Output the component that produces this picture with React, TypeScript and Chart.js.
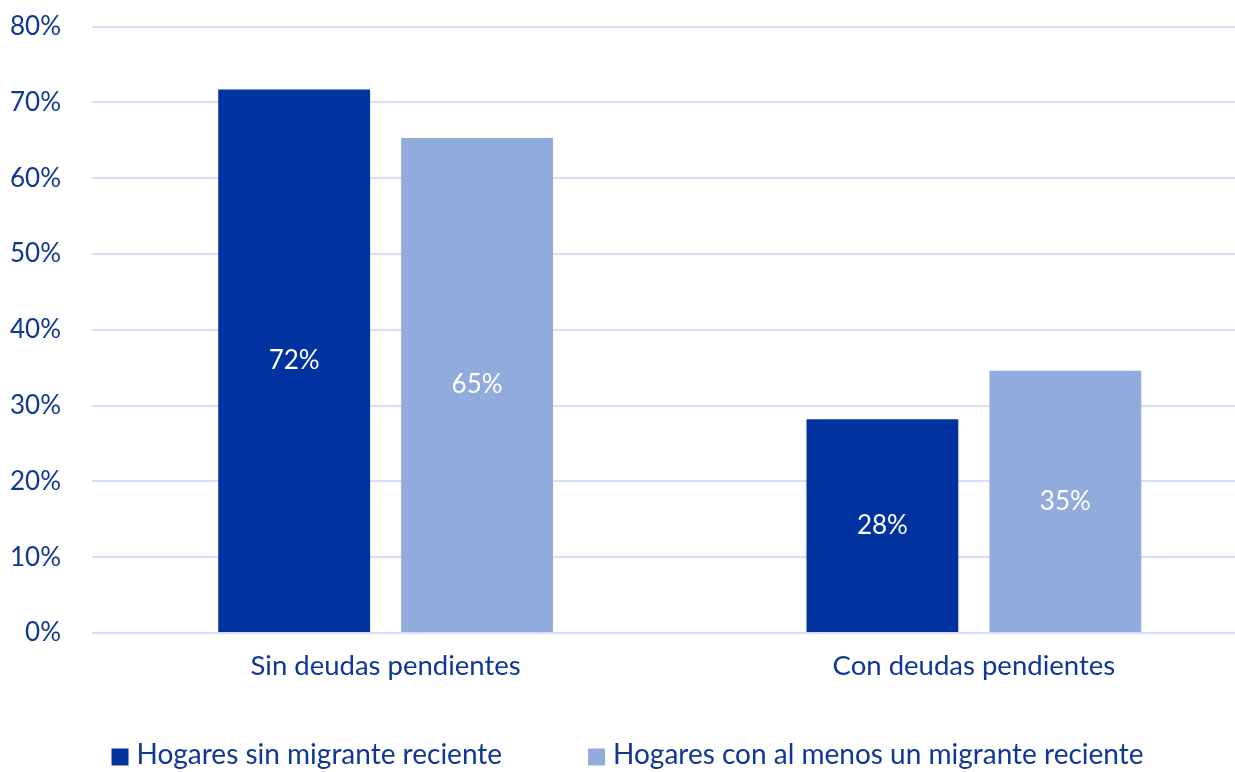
import React, { useEffect, useRef } from "react";
import { Chart, registerables } from "chart.js";

Chart.register(...registerables);

const categories = ["Sin deudas pendientes", "Con deudas pendientes"];
const seriesNames = ["Hogares sin migrante reciente", "Hogares con al menos un migrante reciente"];
const sinMigrante = [71.7, 28.2];
const conMigrante = [65.3, 34.6];
const valueLabelsSin = ["72%", "28%"];
const valueLabelsCon = ["65%", "35%"];
const yTicks = [0, 10, 20, 30, 40, 50, 60, 70, 80];

const DARK = "#0033a0";
const LIGHT = "#91abdc";
const TEXT = "#0f3794";
const GRID = "#d3dff7";
const FONT = "Lato, 'Open Sans', sans-serif";

const valueLabelPlugin = {
  id: "valueLabels",
  afterDatasetsDraw(chart: any) {
    const ctx = chart.ctx;
    ctx.save();
    ctx.font = `26px ${FONT}`;
    ctx.fillStyle = "#ffffff";
    ctx.textAlign = "center";
    ctx.textBaseline = "middle";
    chart.data.datasets.forEach((ds: any, di: number) => {
      const meta = chart.getDatasetMeta(di);
      meta.data.forEach((bar: any, i: number) => {
        const y = (bar.y + bar.base) / 2;
        ctx.fillText(ds.valueLabels[i], bar.x, y);
      });
    });
    ctx.restore();
  },
};

const legendPlugin = {
  id: "customLegend",
  afterDraw(chart: any) {
    const ctx = chart.ctx;
    ctx.save();
    ctx.font = `28px ${FONT}`;
    ctx.textBaseline = "middle";
    ctx.textAlign = "left";
    const box = 17;
    const gap = 8;
    const between = 86;
    const items = chart.data.datasets.map((ds: any) => ({
      text: ds.label,
      color: ds.backgroundColor,
      w: ctx.measureText(ds.label).width,
    }));
    let total = 0;
    items.forEach((it: any, i: number) => {
      total += box + gap + it.w + (i > 0 ? between : 0);
    });
    let x = 627.5 - total / 2;
    const cy = 755;
    items.forEach((it: any) => {
      ctx.fillStyle = it.color;
      ctx.fillRect(x, cy - box / 2 + 2, box, box);
      ctx.fillStyle = TEXT;
      ctx.fillText(it.text, x + box + gap, cy);
      x += box + gap + it.w + between;
    });
    ctx.restore();
  },
};

export default function App() {
  const ref = useRef<HTMLCanvasElement>(null);
  useEffect(() => {
    if (!ref.current) return;
    const chart = new Chart(ref.current, {
      type: "bar",
      data: {
        labels: categories,
        datasets: [
          {
            label: seriesNames[0],
            data: sinMigrante,
            backgroundColor: DARK,
            valueLabels: valueLabelsSin,
            categoryPercentage: 0.622,
            barPercentage: 0.83,
          } as any,
          {
            label: seriesNames[1],
            data: conMigrante,
            backgroundColor: LIGHT,
            valueLabels: valueLabelsCon,
            categoryPercentage: 0.622,
            barPercentage: 0.83,
          } as any,
        ],
      },
      options: {
        responsive: false,
        animation: false,
        layout: { padding: { top: 26.5, bottom: 79, left: 0, right: 0 } },
        plugins: {
          legend: { display: false },
          tooltip: { enabled: false },
        },
        scales: {
          x: {
            grid: { display: false },
            border: { display: false },
            ticks: { color: TEXT, font: { family: FONT, size: 27.5 }, padding: 9 },
            afterFit: (s: any) => {
              s.height = 60;
              s.paddingLeft = 0;
              s.paddingRight = 0;
            },
          },
          y: {
            min: 0,
            max: 80,
            afterBuildTicks: (s: any) => {
              s.ticks = yTicks.map((v) => ({ value: v }));
            },
            grid: { color: GRID, lineWidth: 2, drawTicks: false },
            border: { display: false },
            ticks: {
              color: TEXT,
              font: { family: FONT, size: 26 },
              padding: 30.5,
              callback: (v: any) => `${v}%`,
            },
            afterFit: (s: any) => {
              s.width = 91.5;
              s.paddingTop = 0;
              s.paddingBottom = 0;
            },
          },
        },
      },
      plugins: [valueLabelPlugin, legendPlugin],
    });
    return () => chart.destroy();
  }, []);
  return (
    <div
      style={{
        position: "absolute",
        left: 0,
        top: 0,
        width: 1235,
        height: 772,
        overflow: "hidden",
        background: "#ffffff",
      }}
    >
      <canvas ref={ref} width={1268} height={772} style={{ width: 1268, height: 772, display: "block" }} />
    </div>
  );
}
